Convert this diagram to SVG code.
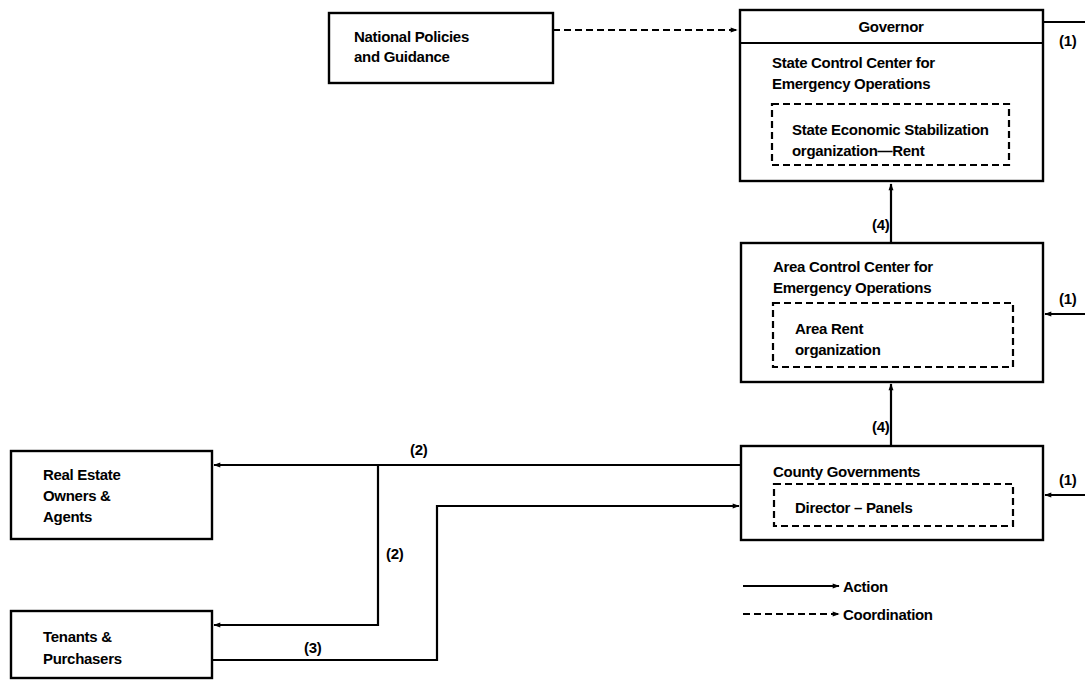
<svg xmlns="http://www.w3.org/2000/svg" width="1085" height="680" viewBox="0 0 1085 680">
<style>
.box{fill:#fff;stroke:#000;stroke-width:2.4}
.inner{fill:none;stroke:#000;stroke-width:2.2;stroke-dasharray:7,4}
text{font-family:"Liberation Sans",Arial,sans-serif;font-weight:bold;font-size:15px;fill:#000;letter-spacing:-0.3px}
.c{stroke:#000;stroke-width:2.2;fill:none}
.d{stroke-dasharray:7,4}
</style>
<defs>
<marker id="ah" viewBox="0 0 10 10" refX="9" refY="5" markerWidth="9" markerHeight="7" markerUnits="userSpaceOnUse" orient="auto">
<path d="M0,1.5 L10,5 L0,8.5 Z" fill="#000"/>
</marker>
</defs>
<rect width="1085" height="680" fill="#fff"/>
<g id="connectors">
<path class="c d" d="M553,30 H737" marker-end="url(#ah)"/>
<path class="c" d="M1085,22 H1043"/>
<path class="c" d="M1085,314 H1045" marker-end="url(#ah)"/>
<path class="c" d="M1085,495 H1045" marker-end="url(#ah)"/>
<path class="c" d="M891,243 V184" marker-end="url(#ah)"/>
<path class="c" d="M891,445 V384" marker-end="url(#ah)"/>
<path class="c" d="M741,465 H214" marker-end="url(#ah)"/>
<path class="c" d="M378,465 V625 H214" marker-end="url(#ah)"/>
<path class="c" d="M212,660 H437 V506 H739" marker-end="url(#ah)"/>
<text x="410" y="455">(2)</text>
<text x="386" y="559">(2)</text>
<text x="304" y="653">(3)</text>
<text x="872" y="230">(4)</text>
<text x="872" y="432">(4)</text>
<text x="1059" y="46">(1)</text>
<text x="1059" y="304">(1)</text>
<text x="1059" y="485">(1)</text>
</g>
<g id="national">
<rect class="box" x="329" y="13" width="224" height="70"/>
<text x="354" y="42">National Policies</text>
<text x="354" y="62">and Guidance</text>
</g>
<g id="state">
<rect class="box" x="740" y="10" width="303" height="171"/>
<line x1="740" y1="43" x2="1043" y2="43" stroke="#000" stroke-width="2.2"/>
<text x="891" y="32" text-anchor="middle">Governor</text>
<text x="772" y="68">State Control Center for</text>
<text x="772" y="89">Emergency Operations</text>
<rect class="inner" x="772" y="104" width="237" height="61"/>
<text x="792" y="135">State Economic Stabilization</text>
<text x="792" y="156">organization—Rent</text>
</g>
<g id="area">
<rect class="box" x="741" y="243" width="302" height="139"/>
<text x="773" y="272">Area Control Center for</text>
<text x="773" y="293">Emergency Operations</text>
<rect class="inner" x="773" y="303" width="240" height="64"/>
<text x="795" y="334">Area Rent</text>
<text x="795" y="355">organization</text>
</g>
<g id="county">
<rect class="box" x="741" y="446" width="302" height="94"/>
<text x="773" y="477">County Governments</text>
<rect class="inner" x="774" y="484" width="239" height="42"/>
<text x="795" y="513">Director – Panels</text>
</g>
<g id="realestate">
<rect class="box" x="11" y="451" width="201" height="88"/>
<text x="43" y="480">Real Estate</text>
<text x="43" y="501">Owners &amp;</text>
<text x="43" y="522">Agents</text>
</g>
<g id="tenants">
<rect class="box" x="11" y="611" width="201" height="67"/>
<text x="43" y="642">Tenants &amp;</text>
<text x="43" y="664">Purchasers</text>
</g>
<g id="legend">
<path class="c" d="M743,586 H839" marker-end="url(#ah)"/>
<path class="c d" d="M743,614 H839" marker-end="url(#ah)"/>
<text x="843" y="592">Action</text>
<text x="843" y="620">Coordination</text>
</g>
</svg>
